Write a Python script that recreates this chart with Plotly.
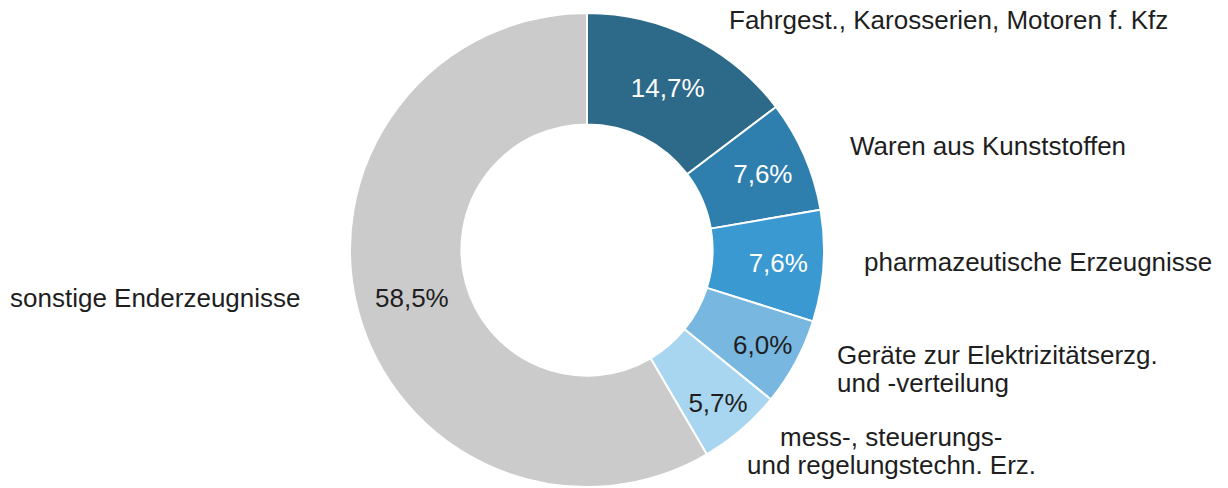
import plotly.graph_objects as go

categories = ["Fahrgest., Karosserien, Motoren f. Kfz", "Waren aus Kunststoffen",
              "pharmazeutische Erzeugnisse", "Geräte zur Elektrizitätserzg. und -verteilung",
              "mess-, steuerungs- und regelungstechn. Erz.", "sonstige Enderzeugnisse"]
values = [14.7, 7.6, 7.6, 6.0, 5.7, 58.5]
pct_labels = ["14,7%", "7,6%", "7,6%", "6,0%", "5,7%", "58,5%"]
colors = ["#2D6A8A", "#2E7EAE", "#3A99D0", "#78B7E0", "#A8D6F0", "#CBCBCB"]
text_colors = ["white", "white", "white", "#1e1e1e", "#1e1e1e", "#1e1e1e"]

W, H = 1228, 488
cx, cy, R = 587, 250, 237
FS = 26

inside_text = pct_labels[:5] + [""]

fig = go.Figure(go.Pie(
    values=values, labels=categories, text=inside_text,
    textinfo="text", textposition="inside", insidetextorientation="horizontal",
    sort=False, direction="clockwise", rotation=0, hole=0.53,
    marker=dict(colors=colors, line=dict(color="white", width=2)),
    insidetextfont=dict(family="Liberation Sans, Arial", size=FS, color=text_colors),
    domain=dict(x=[(cx - R) / W, (cx + R) / W], y=[(H - cy - R) / H, (H - cy + R) / H]),
    showlegend=False, hoverinfo="label+value",
))

font = dict(family="Liberation Sans, Arial", size=FS, color="#1e1e1e")
ann = [
    dict(text=categories[0], x=727, y=20, xanchor="left"),
    dict(text=categories[1], x=848, y=146, xanchor="left"),
    dict(text=categories[2], x=862, y=262, xanchor="left"),
    dict(text="Geräte zur Elektrizitätserzg.", x=835, y=355, xanchor="left"),
    dict(text="und -verteilung", x=835, y=383, xanchor="left"),
    dict(text="mess-, steuerungs-", x=891, y=437, xanchor="center"),
    dict(text="und regelungstechn. Erz.", x=891, y=465, xanchor="center"),
    dict(text=categories[5], x=8, y=298, xanchor="left"),
    dict(text=pct_labels[5], x=412, y=298, xanchor="center"),
]
annotations = []
for a in ann:
    d = dict(xref="paper", yref="paper", yanchor="middle", showarrow=False, font=font)
    d.update(a)
    d["x"] = d["x"] / W
    d["y"] = 1 - d["y"] / H
    annotations.append(d)

fig.update_layout(width=W, height=H, margin=dict(l=0, r=0, t=0, b=0),
                  paper_bgcolor="white", plot_bgcolor="white", annotations=annotations)

fig.write_html("out.html")
